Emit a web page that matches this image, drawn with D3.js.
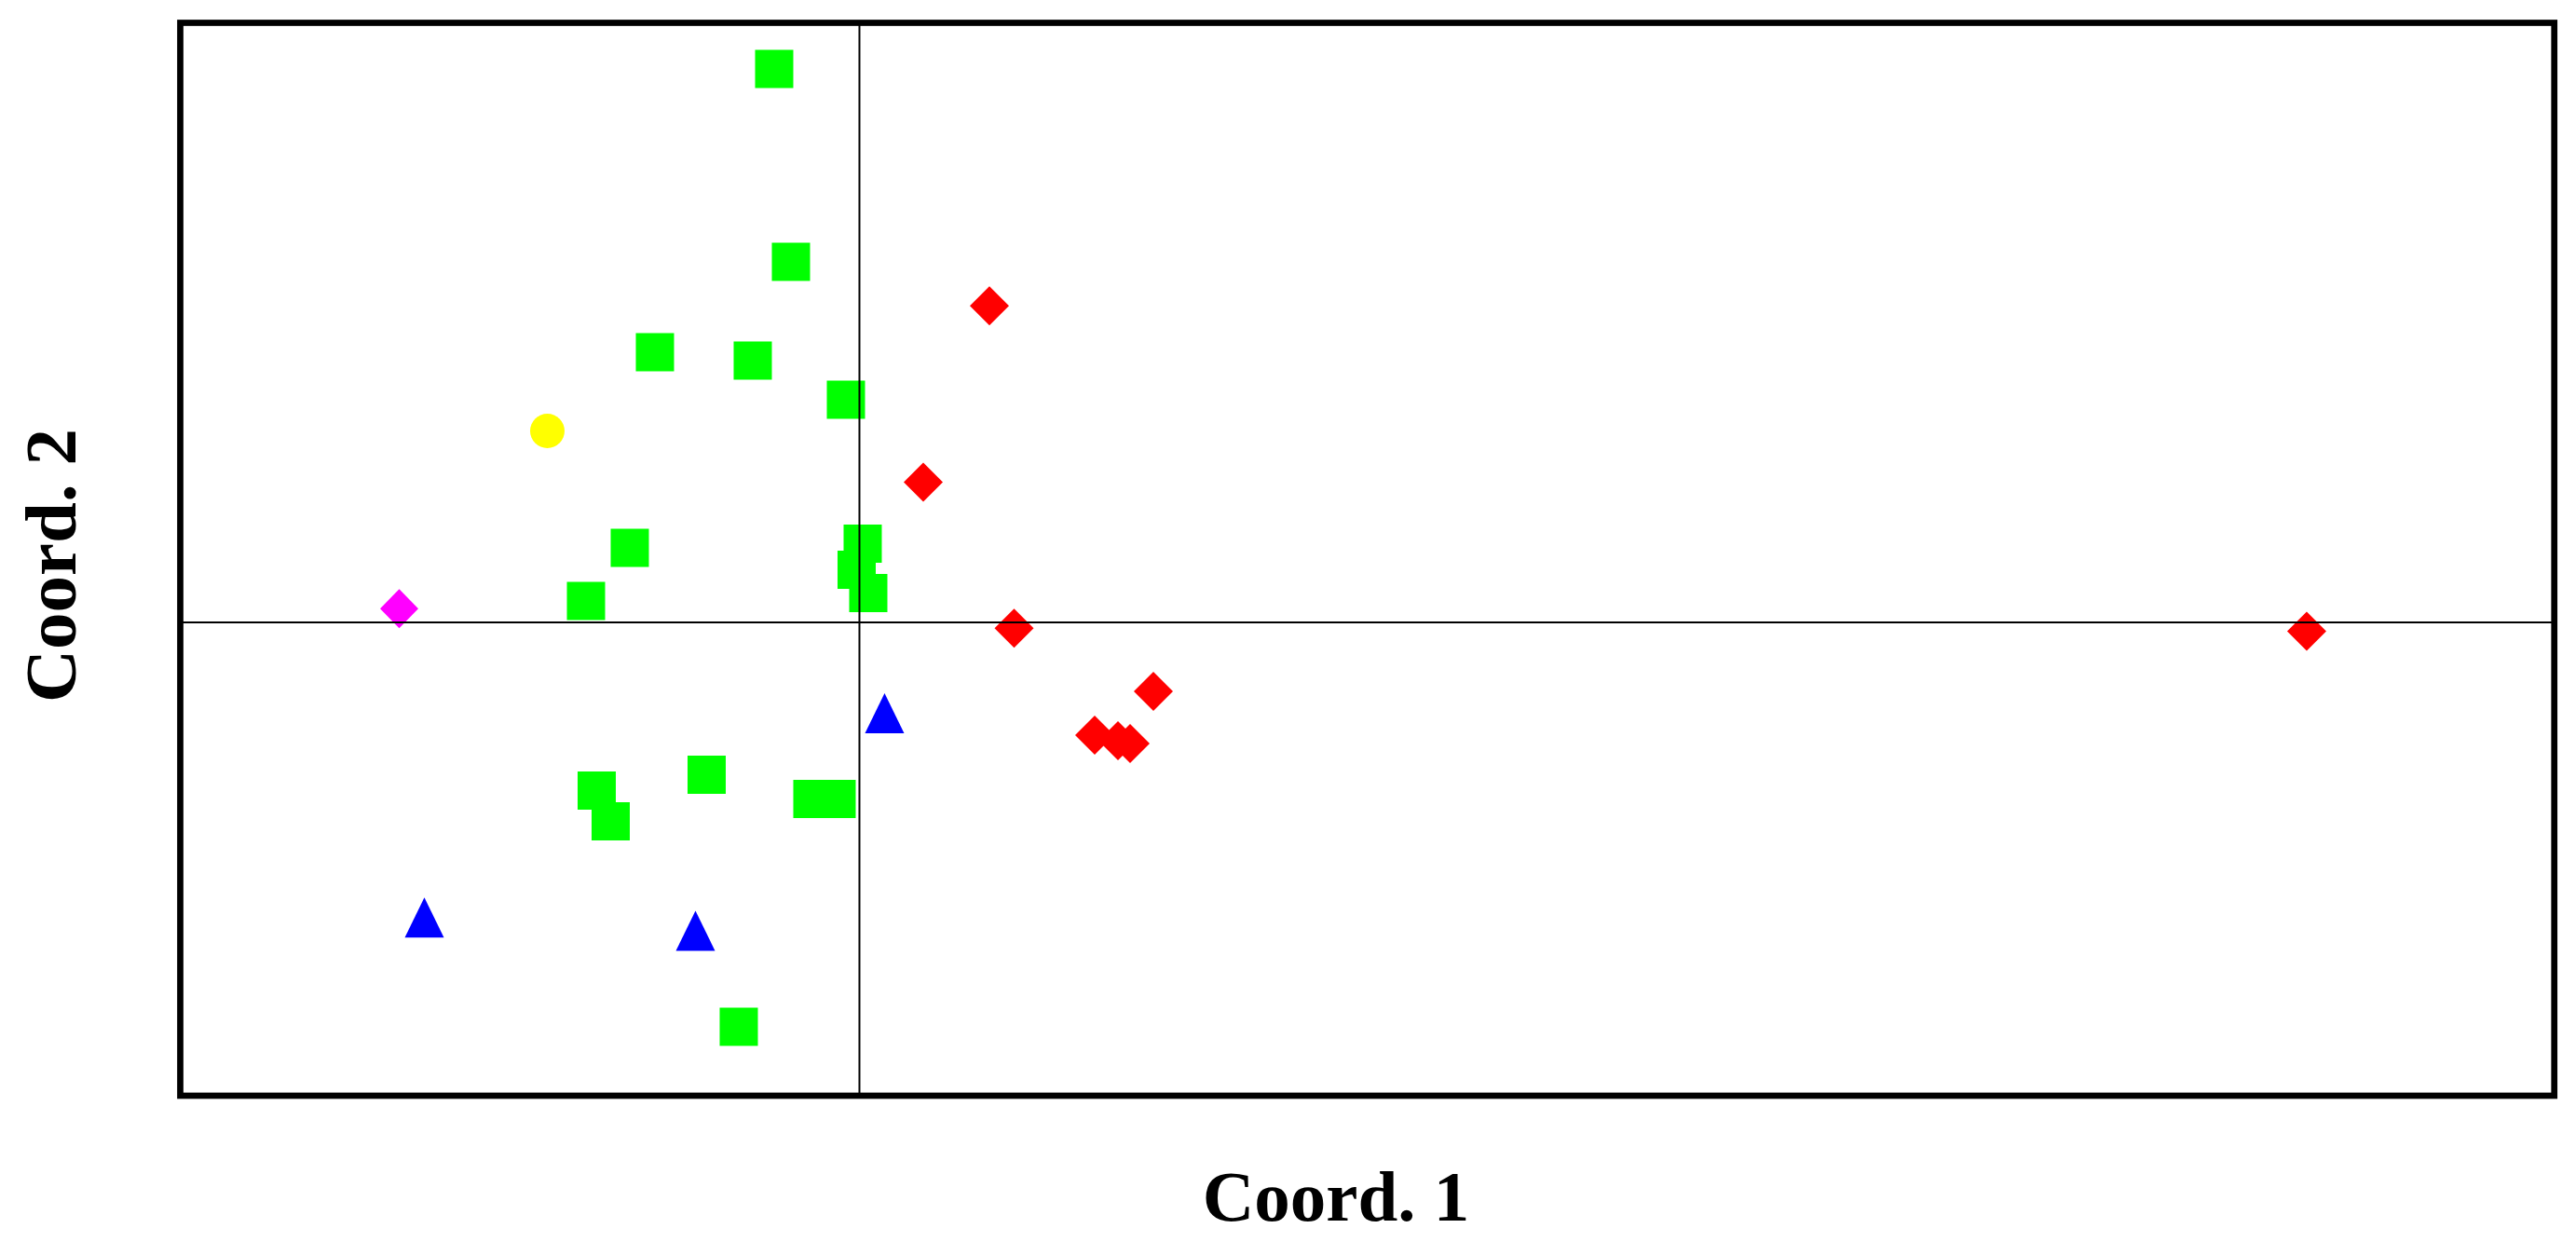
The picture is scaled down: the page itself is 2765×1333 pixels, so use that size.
<!DOCTYPE html>
<html>
<head>
<meta charset="utf-8">
<script src="https://cdn.jsdelivr.net/npm/d3@7"></script>
<style>
  html, body { margin: 0; padding: 0; background: #fff; }
  svg { display: block; }
</style>
</head>
<body>
<svg id="chart" width="2765" height="1333"></svg>
<script>
// ---- Data ----
const axisTitles = ["Coord. 1", "Coord. 2"];
const xDomain = [-0.2916, 0.7277];
const yDomain = [-0.2032, 0.2574];

// Group A: green squares
const squaresX = [-0.0366, -0.0294, -0.0878, -0.0458, -0.0058, -0.0986, 0.0014, -0.0012,
                  0.0038, -0.1174, -0.1128, -0.1068, -0.0656, -0.0202, -0.0098, -0.0518];
const squaresY = [0.2376, 0.1548, 0.1160, 0.1124, 0.0956, 0.0320, 0.0338, 0.0226,
                  0.0126, 0.0092, -0.0722, -0.0854, -0.0654, -0.0758, -0.0758, -0.1736];
// Group B: red diamonds
const redX = [0.0558, 0.0274, 0.0664, 0.1262, 0.1010, 0.1110, 0.1162, 0.6214];
const redY = [0.1359, 0.0602, -0.0025, -0.0296, -0.0484, -0.0508, -0.0520, -0.0038];
// Group C: blue triangles
const blueX = [0.0108, -0.1868, -0.0704];
const blueY = [-0.0390, -0.1267, -0.1324];
// Group D: magenta diamond
const magentaX = [-0.1976];
const magentaY = [0.0059];
// Group E: yellow circle
const yellowX = [-0.1340];
const yellowY = [0.0822];

// ---- Layout ----
const frame = { left: 193.5, right: 2741.7, top: 24.5, bottom: 1176 };
const svg = d3.select("#chart");

const x = d3.scaleLinear().domain(xDomain).range([frame.left, frame.right]);
const y = d3.scaleLinear().domain(yDomain).range([frame.bottom, frame.top]);

// shape path generators (pixel sizes are styling)
function squarePath(s) { const h = s / 2; return `M${-h},${-h}H${h}V${h}H${-h}Z`; }
function diamondPath(w, h) { return `M0,${-h/2}L${w/2},0L0,${h/2}L${-w/2},0Z`; }
function trianglePath(w, h) { return `M0,${-h/2}L${w/2},${h/2}L${-w/2},${h/2}Z`; }

const groups = [
  { xs: squaresX, ys: squaresY, color: "#00ff00", path: squarePath(41) },
  { xs: redX, ys: redY, color: "#ff0000", path: diamondPath(42, 42) },
  { xs: blueX, ys: blueY, color: "#0000ff", path: trianglePath(42, 43) },
  { xs: magentaX, ys: magentaY, color: "#ff00ff", path: diamondPath(41, 42) },
];

const marks = svg.append("g");
groups.forEach(g => {
  const pts = g.xs.map((v, i) => [v, g.ys[i]]);
  marks.selectAll(null).data(pts).enter().append("path")
    .attr("d", g.path)
    .attr("transform", d => `translate(${x(d[0])},${y(d[1])})`)
    .attr("fill", g.color);
});
marks.selectAll(null).data(yellowX.map((v, i) => [v, yellowY[i]])).enter().append("ellipse")
  .attr("cx", d => x(d[0])).attr("cy", d => y(d[1]))
  .attr("rx", 18.5).attr("ry", 18.5)
  .attr("fill", "#ffff00");

// zero lines
svg.append("line")
  .attr("x1", x(0)).attr("x2", x(0))
  .attr("y1", frame.top).attr("y2", frame.bottom)
  .attr("stroke", "#000").attr("stroke-width", 2);
svg.append("line")
  .attr("x1", frame.left).attr("x2", frame.right)
  .attr("y1", y(0)).attr("y2", y(0))
  .attr("stroke", "#000").attr("stroke-width", 1.8);

// frame
svg.append("rect")
  .attr("x", frame.left).attr("y", frame.top)
  .attr("width", frame.right - frame.left).attr("height", frame.bottom - frame.top)
  .attr("fill", "none").attr("stroke", "#000").attr("stroke-width", 6.7);

// axis titles
const fontFam = "'Liberation Serif', 'Times New Roman', serif";
svg.append("text")
  .attr("x", 1434).attr("y", 1310)
  .attr("text-anchor", "middle")
  .attr("font-family", fontFam).attr("font-weight", "bold").attr("font-size", 77)
  .text(axisTitles[0]);
svg.append("text")
  .attr("transform", "translate(81,607) rotate(-90)")
  .attr("text-anchor", "middle")
  .attr("font-family", fontFam).attr("font-weight", "bold").attr("font-size", 79)
  .text(axisTitles[1]);
</script>
</body>
</html>
